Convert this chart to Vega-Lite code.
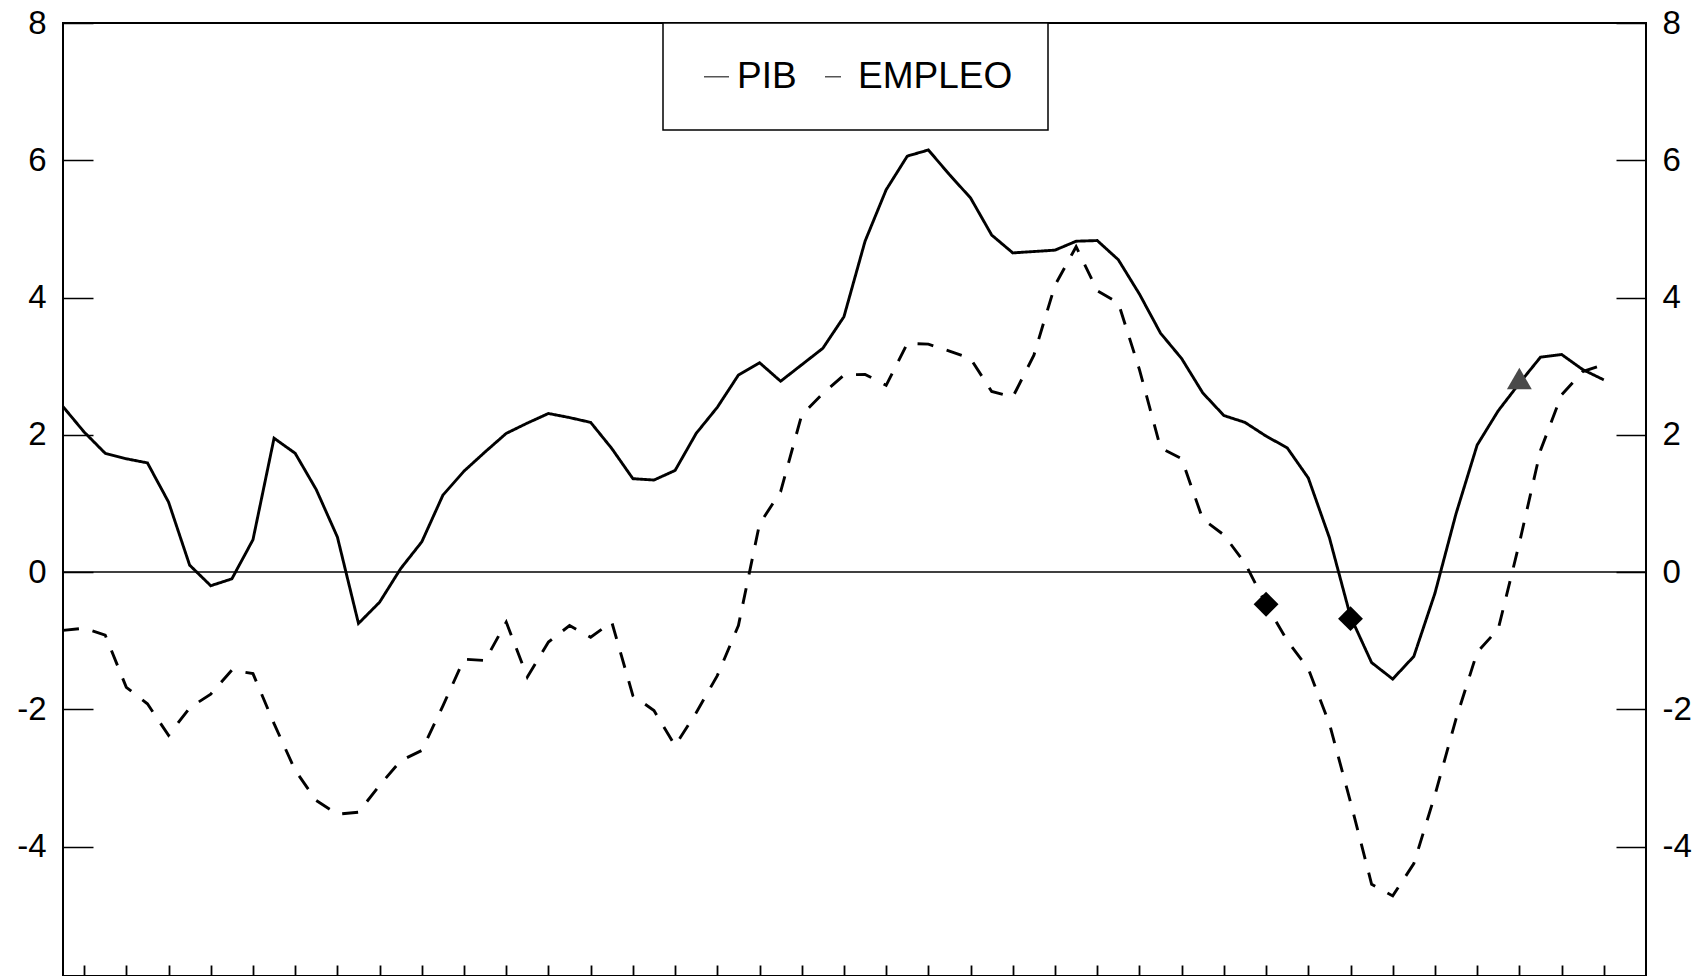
{
  "$schema": "https://vega.github.io/schema/vega-lite/v6.json",
  "width": 1583,
  "height": 953,
  "autosize": "none",
  "padding": {"left": 63, "top": 23, "right": 54, "bottom": 0},
  "background": "white",
  "config": {
    "view": {"stroke": "black", "strokeWidth": 2},
    "axis": {"labelFont": "Liberation Sans", "labelFontSize": 33, "labelColor": "black", "tickColor": "black", "domain": false, "grid": false, "title": null},
    "legend": {"strokeWidth": 1.5}
  },
  "datasets": {
    "series": [
      {"k":0,"series":"PIB","value":2.41},{"k":1,"series":"PIB","value":2.04},{"k":2,"series":"PIB","value":1.73},{"k":3,"series":"PIB","value":1.65},{"k":4,"series":"PIB","value":1.59},{"k":5,"series":"PIB","value":1.02},{"k":6,"series":"PIB","value":0.10},{"k":7,"series":"PIB","value":-0.20},{"k":8,"series":"PIB","value":-0.10},{"k":9,"series":"PIB","value":0.47},
      {"k":10,"series":"PIB","value":1.95},{"k":11,"series":"PIB","value":1.73},{"k":12,"series":"PIB","value":1.20},{"k":13,"series":"PIB","value":0.51},{"k":14,"series":"PIB","value":-0.75},{"k":15,"series":"PIB","value":-0.44},{"k":16,"series":"PIB","value":0.05},{"k":17,"series":"PIB","value":0.44},{"k":18,"series":"PIB","value":1.12},{"k":19,"series":"PIB","value":1.47},
      {"k":20,"series":"PIB","value":1.75},{"k":21,"series":"PIB","value":2.02},{"k":22,"series":"PIB","value":2.17},{"k":23,"series":"PIB","value":2.31},{"k":24,"series":"PIB","value":2.25},{"k":25,"series":"PIB","value":2.18},{"k":26,"series":"PIB","value":1.80},{"k":27,"series":"PIB","value":1.36},{"k":28,"series":"PIB","value":1.34},{"k":29,"series":"PIB","value":1.48},
      {"k":30,"series":"PIB","value":2.02},{"k":31,"series":"PIB","value":2.40},{"k":32,"series":"PIB","value":2.87},{"k":33,"series":"PIB","value":3.05},{"k":34,"series":"PIB","value":2.78},{"k":35,"series":"PIB","value":3.02},{"k":36,"series":"PIB","value":3.26},{"k":37,"series":"PIB","value":3.72},{"k":38,"series":"PIB","value":4.82},{"k":39,"series":"PIB","value":5.57},
      {"k":40,"series":"PIB","value":6.06},{"k":41,"series":"PIB","value":6.15},{"k":42,"series":"PIB","value":5.79},{"k":43,"series":"PIB","value":5.45},{"k":44,"series":"PIB","value":4.91},{"k":45,"series":"PIB","value":4.65},{"k":46,"series":"PIB","value":4.67},{"k":47,"series":"PIB","value":4.69},{"k":48,"series":"PIB","value":4.82},{"k":49,"series":"PIB","value":4.83},
      {"k":50,"series":"PIB","value":4.55},{"k":51,"series":"PIB","value":4.05},{"k":52,"series":"PIB","value":3.48},{"k":53,"series":"PIB","value":3.11},{"k":54,"series":"PIB","value":2.61},{"k":55,"series":"PIB","value":2.28},{"k":56,"series":"PIB","value":2.18},{"k":57,"series":"PIB","value":1.98},{"k":58,"series":"PIB","value":1.81},{"k":59,"series":"PIB","value":1.37},
      {"k":60,"series":"PIB","value":0.50},{"k":61,"series":"PIB","value":-0.65},{"k":62,"series":"PIB","value":-1.32},{"k":63,"series":"PIB","value":-1.56},{"k":64,"series":"PIB","value":-1.23},{"k":65,"series":"PIB","value":-0.31},{"k":66,"series":"PIB","value":0.85},{"k":67,"series":"PIB","value":1.85},{"k":68,"series":"PIB","value":2.35},{"k":69,"series":"PIB","value":2.75},
      {"k":70,"series":"PIB","value":3.13},{"k":71,"series":"PIB","value":3.17},{"k":72,"series":"PIB","value":2.95},{"k":73,"series":"PIB","value":2.80},
      {"k":0,"series":"EMPLEO","value":-0.85},{"k":1,"series":"EMPLEO","value":-0.82},{"k":2,"series":"EMPLEO","value":-0.92},{"k":3,"series":"EMPLEO","value":-1.68},{"k":4,"series":"EMPLEO","value":-1.92},{"k":5,"series":"EMPLEO","value":-2.38},{"k":6,"series":"EMPLEO","value":-1.98},{"k":7,"series":"EMPLEO","value":-1.78},{"k":8,"series":"EMPLEO","value":-1.43},{"k":9,"series":"EMPLEO","value":-1.48},
      {"k":10,"series":"EMPLEO","value":-2.21},{"k":11,"series":"EMPLEO","value":-2.89},{"k":12,"series":"EMPLEO","value":-3.33},{"k":13,"series":"EMPLEO","value":-3.53},{"k":14,"series":"EMPLEO","value":-3.50},{"k":15,"series":"EMPLEO","value":-3.11},{"k":16,"series":"EMPLEO","value":-2.75},{"k":17,"series":"EMPLEO","value":-2.60},{"k":18,"series":"EMPLEO","value":-1.95},{"k":19,"series":"EMPLEO","value":-1.27},
      {"k":20,"series":"EMPLEO","value":-1.29},{"k":21,"series":"EMPLEO","value":-0.73},{"k":22,"series":"EMPLEO","value":-1.53},{"k":23,"series":"EMPLEO","value":-1.02},{"k":24,"series":"EMPLEO","value":-0.78},{"k":25,"series":"EMPLEO","value":-0.95},{"k":26,"series":"EMPLEO","value":-0.73},{"k":27,"series":"EMPLEO","value":-1.80},{"k":28,"series":"EMPLEO","value":-2.02},{"k":29,"series":"EMPLEO","value":-2.53},
      {"k":30,"series":"EMPLEO","value":-2.05},{"k":31,"series":"EMPLEO","value":-1.51},{"k":32,"series":"EMPLEO","value":-0.78},{"k":33,"series":"EMPLEO","value":0.70},{"k":34,"series":"EMPLEO","value":1.17},{"k":35,"series":"EMPLEO","value":2.29},{"k":36,"series":"EMPLEO","value":2.60},{"k":37,"series":"EMPLEO","value":2.87},{"k":38,"series":"EMPLEO","value":2.88},{"k":39,"series":"EMPLEO","value":2.72},
      {"k":40,"series":"EMPLEO","value":3.33},{"k":41,"series":"EMPLEO","value":3.32},{"k":42,"series":"EMPLEO","value":3.22},{"k":43,"series":"EMPLEO","value":3.11},{"k":44,"series":"EMPLEO","value":2.63},{"k":45,"series":"EMPLEO","value":2.55},{"k":46,"series":"EMPLEO","value":3.16},{"k":47,"series":"EMPLEO","value":4.18},{"k":48,"series":"EMPLEO","value":4.74},{"k":49,"series":"EMPLEO","value":4.10},
      {"k":50,"series":"EMPLEO","value":3.92},{"k":51,"series":"EMPLEO","value":2.95},{"k":52,"series":"EMPLEO","value":1.81},{"k":53,"series":"EMPLEO","value":1.65},{"k":54,"series":"EMPLEO","value":0.77},{"k":55,"series":"EMPLEO","value":0.54},{"k":56,"series":"EMPLEO","value":0.13},{"k":57,"series":"EMPLEO","value":-0.47},{"k":58,"series":"EMPLEO","value":-1.00},{"k":59,"series":"EMPLEO","value":-1.41},
      {"k":60,"series":"EMPLEO","value":-2.21},{"k":61,"series":"EMPLEO","value":-3.35},{"k":62,"series":"EMPLEO","value":-4.55},{"k":63,"series":"EMPLEO","value":-4.72},{"k":64,"series":"EMPLEO","value":-4.25},{"k":65,"series":"EMPLEO","value":-3.25},{"k":66,"series":"EMPLEO","value":-2.14},{"k":67,"series":"EMPLEO","value":-1.17},{"k":68,"series":"EMPLEO","value":-0.83},{"k":69,"series":"EMPLEO","value":0.42},
      {"k":70,"series":"EMPLEO","value":1.77},{"k":71,"series":"EMPLEO","value":2.58},{"k":72,"series":"EMPLEO","value":2.92},{"k":73,"series":"EMPLEO","value":3.02}
    ],
    "markers": [
      {"k":57,"value":-0.47,"marker":"diamond"},
      {"k":61,"value":-0.68,"marker":"diamond"},
      {"k":69,"value":2.82,"marker":"triangle-up"}
    ]
  },
  "layer": [
    {
      "data": {"name": "series"},
      "mark": {"type": "line", "strokeWidth": 2.9, "color": "black", "strokeCap": "butt"},
      "encoding": {
        "x": {"field": "k", "type": "quantitative", "scale": {"domain": [0, 75], "nice": false, "zero": false},
              "axis": {"values": [1,2,3,4,5,6,7,8,9,10,11,12,13,14,15,16,17,18,19,20,21,22,23,24,25,26,27,28,29,30,31,32,33,34,35,36,37,38,39,40,41,42,43,44,45,46,47,48,49,50,51,52,53,54,55,56,57,58,59,60,61,62,63,64,65,66,67,68,69,70,71,72,73,74], "tickSize": -11, "tickWidth": 1.8, "labels": false, "domain": false, "grid": false, "title": null}},
        "y": {"field": "value", "type": "quantitative", "scale": {"domain": [-5.887, 8], "nice": false, "zero": false},
              "axis": {"orient": "left", "values": [-6,-4,-2,0,2,4,6,8], "labelExpr": "'' + datum.value", "tickSize": -30, "tickWidth": 1.5, "labelPadding": 47, "labelBaseline": "middle"}},
        "strokeDash": {"field": "series", "type": "nominal", "scale": {"domain": ["PIB", "EMPLEO"], "range": [[1, 0], [16, 14]]},
              "legend": {"orient": "none", "legendX": 600, "legendY": 0, "direction": "horizontal", "title": null,
                         "strokeColor": "black", "fillColor": "white", "padding": 35,
                         "labelFont": "Liberation Sans", "labelFontSize": 37, "labelColor": "black",
                         "symbolType": "stroke", "symbolSize": 625, "symbolStrokeWidth": 1.5, "symbolStrokeColor": "#555",
                         "labelOffset": 2, "columnPadding": 22}}
      }
    },
    {
      "data": {"values": [{"v": 0}]},
      "mark": {"type": "rule", "strokeWidth": 1.5, "color": "black"},
      "encoding": {
        "y": {"field": "v", "type": "quantitative", "scale": {"domain": [-5.887, 8], "nice": false, "zero": false},
              "axis": {"orient": "right", "values": [-6,-4,-2,0,2,4,6,8], "labelExpr": "'' + datum.value", "tickSize": -30, "tickWidth": 1.5, "labelPadding": 46, "labelBaseline": "middle"}}
      }
    },
    {
      "data": {"name": "markers"},
      "mark": {"type": "point", "filled": true, "opacity": 1, "size": 620},
      "encoding": {
        "x": {"field": "k", "type": "quantitative", "scale": {"domain": [0, 75], "nice": false, "zero": false}},
        "y": {"field": "value", "type": "quantitative", "scale": {"domain": [-5.887, 8], "nice": false, "zero": false}, "axis": null},
        "shape": {"field": "marker", "type": "nominal", "scale": {"domain": ["diamond", "triangle-up"], "range": ["diamond", "triangle-up"]}, "legend": null},
        "color": {"field": "marker", "type": "nominal", "scale": {"domain": ["diamond", "triangle-up"], "range": ["black", "#4a4a4a"]}, "legend": null}
      }
    }
  ],
  "resolve": {"scale": {"y": "independent"}}
}
